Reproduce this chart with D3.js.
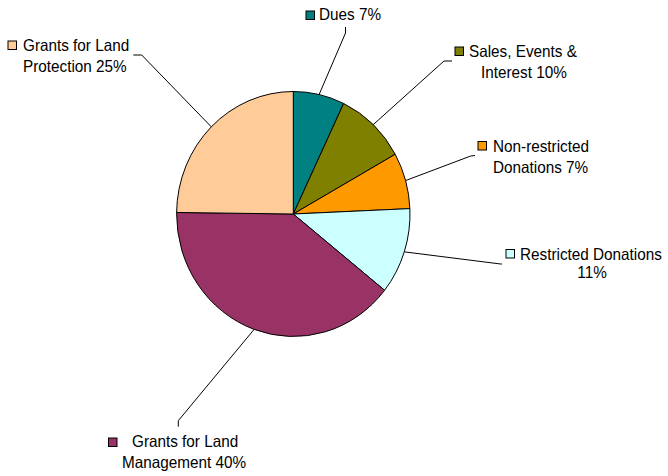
<!DOCTYPE html>
<html>
<head>
<meta charset="utf-8">
<script src="https://cdn.jsdelivr.net/npm/d3@7"></script>
<style>
  html, body { margin: 0; padding: 0; background: #fff; }
  svg { display: block; }
  text { font-family: "Liberation Sans", Arial, sans-serif; font-size: 15.3px; fill: #000; }
</style>
</head>
<body>
<svg id="chart" width="668" height="476"></svg>
<script>
// ---- data ----
const categories = ["Dues", "Sales, Events & Interest", "Non-restricted Donations",
                    "Restricted Donations", "Grants for Land Management", "Grants for Land Protection"];
const values = [7.1, 9.8, 7.4, 11.4, 39.5, 24.8];
const colors = ["#008080", "#808000", "#FF9900", "#CCFFFF", "#993366", "#FFCC99"];

// ---- layout (label placement) ----
const labelLayout = [
  { lines: ["Dues {p}"], key: [306, 11], text: [[319, 20, "start"]], elbow: [[345.5, 33], [345.5, 27]] },
  { lines: ["Sales, Events &", "Interest {p}"], key: [455, 47], text: [[469, 57, "start"], [481, 78, "start"]], elbow: [[444, 61], [452, 61]] },
  { lines: ["Non-restricted", "Donations {p}"], key: [478, 141.5], text: [[493, 152, "start"], [493, 173, "start"]], elbow: [[470.7, 156], [475, 155.5]] },
  { lines: ["Restricted Donations", "{p}"], key: [506, 249.5], text: [[520, 259.5, "start"], [592, 278, "middle"]], elbow: [[500.7, 264], [502, 264]] },
  { lines: ["Grants for Land", "Management {p}"], key: [108.5, 438], text: [[132, 447, "start"], [122, 468, "start"]], elbow: [[178.3, 420.7], [178.3, 426.7]] },
  { lines: ["Grants for Land", "Protection {p}"], key: [8, 41], text: [[23, 51, "start"], [23, 72, "start"]], elbow: [[141.7, 55], [133.3, 55]] }
];

const cx = 293.3, cy = 214, rx = 116.7, ry = 122.5;
const vs = ry / rx;
const svg = d3.select("#chart");

const pie = d3.pie().sort(null).value(d => d)(values);
const arc = d3.arc().innerRadius(0).outerRadius(rx);

const g = svg.append("g").attr("transform", `translate(${cx},${cy}) scale(1,${vs})`);
g.selectAll("path").data(pie).enter().append("path")
  .attr("d", arc)
  .attr("fill", (d, i) => colors[i])
  .attr("stroke", "#000")
  .attr("stroke-width", 1)
  .attr("vector-effect", "non-scaling-stroke");

const total = d3.sum(values);
const line = d3.line();

pie.forEach((d, i) => {
  const L = labelLayout[i];
  const mid = (d.startAngle + d.endAngle) / 2;
  const edge = [cx + rx * Math.sin(mid), cy - ry * Math.cos(mid)];
  svg.append("path")
    .attr("d", line([edge, ...L.elbow]))
    .attr("fill", "none")
    .attr("stroke", "#000")
    .attr("stroke-width", 1);
  svg.append("rect")
    .attr("x", L.key[0]).attr("y", L.key[1])
    .attr("width", 8.5).attr("height", 8.5)
    .attr("fill", colors[i]).attr("stroke", "#000").attr("stroke-width", 1);
  const pct = Math.round(values[i] / total * 100) + "%";
  L.lines.forEach((t, j) => {
    svg.append("text")
      .attr("transform", `translate(${L.text[j][0]},${L.text[j][1]}) scale(1,${vs})`)
      .attr("text-anchor", L.text[j][2])
      .text(t.replace("{p}", pct));
  });
});
</script>
</body>
</html>
